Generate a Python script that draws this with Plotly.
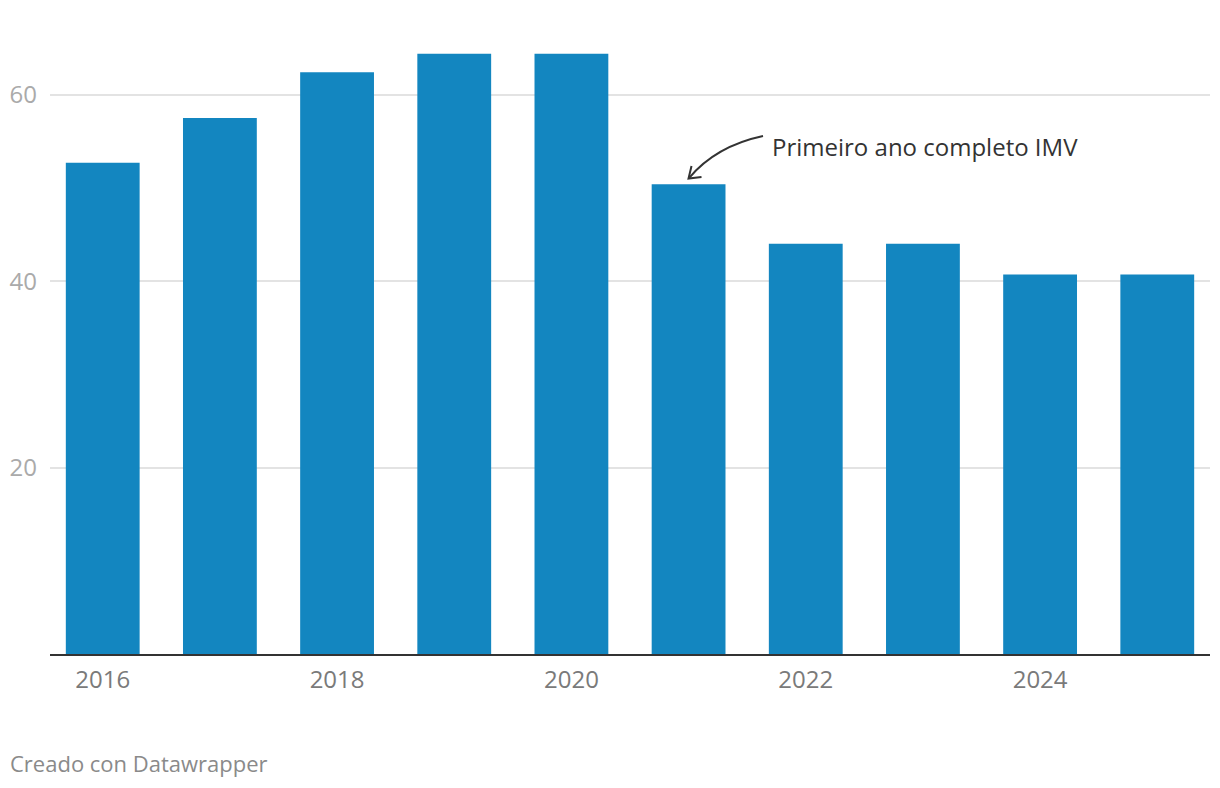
import plotly.graph_objects as go

years = [2016, 2017, 2018, 2019, 2020, 2021, 2022, 2023, 2024, 2025]
values = [52.7, 57.5, 62.4, 64.4, 64.4, 50.4, 44.0, 44.0, 40.7, 40.7]
y_ticks = [20, 40, 60]
x_ticks = [2016, 2018, 2020, 2022, 2024]
annotation_text = "Primeiro ano completo IMV"
footer_text = "Creado con Datawrapper"

FONT = "Open Sans"

fig = go.Figure()
fig.add_trace(go.Bar(
    x=years, y=values,
    marker=dict(color="#1386c0", line=dict(width=0)),
    width=0.63,
    hoverinfo="x+y",
))

# pixel (page) -> data helpers for annotation placement
X0, XPX0, XSCALE = 2015.55, 50, 117.17
YPX0, YSCALE = 654, 9.322
def dx(px):
    return X0 + (px - XPX0) / XSCALE
def dy(py):
    return (YPX0 - py) / YSCALE

curve = (f"M {dx(763)},{dy(136)} Q {dx(716)},{dy(146)} {dx(689)},{dy(178)}")
head = (f"M {dx(691.5)},{dy(166)} L {dx(688.5)},{dy(178.5)} L {dx(701.5)},{dy(177)}")

fig.add_shape(type="path", path=curve, xref="x", yref="y",
              line=dict(color="#333333", width=2))
fig.add_shape(type="path", path=head, xref="x", yref="y",
              line=dict(color="#333333", width=2))

fig.add_annotation(x=dx(770), y=dy(146), xref="x", yref="y",
                   text=annotation_text, showarrow=False,
                   xanchor="left", yanchor="middle",
                   font=dict(family=FONT, size=24, color="#333333"))

fig.add_annotation(x=(8 - 50) / 1160, y=(654 - 763) / 614, xref="paper", yref="paper",
                   text=footer_text, showarrow=False,
                   xanchor="left", yanchor="middle",
                   font=dict(family=FONT, size=22, color="#8a8a8a"))

fig.update_layout(
    width=1212, height=780,
    margin=dict(l=42, r=10, t=32, b=134, autoexpand=False),
    paper_bgcolor="white", plot_bgcolor="white",
    showlegend=False,
    bargap=0.37,
    font=dict(family=FONT),
    xaxis=dict(
        range=[2015.55, 2025.45],
        tickvals=x_ticks, ticktext=[str(t) for t in x_ticks],
        tickfont=dict(family=FONT, size=24, color="#7a7a7a"),
        showgrid=False, zeroline=False,
        showline=True, linecolor="#333333", linewidth=2,
        ticks="", ticklabelstandoff=3, automargin=False,
    ),
    yaxis=dict(
        range=[0, 65.87],
        tickvals=y_ticks,
        tickfont=dict(family=FONT, size=24, color="#aaaaaa"),
        showgrid=True, gridcolor="#e3e3e3", gridwidth=1.5,
        zeroline=False, showline=False, ticks="",
        ticklabelstandoff=12, automargin=False,
    ),
)

fig.write_html("out.html")
